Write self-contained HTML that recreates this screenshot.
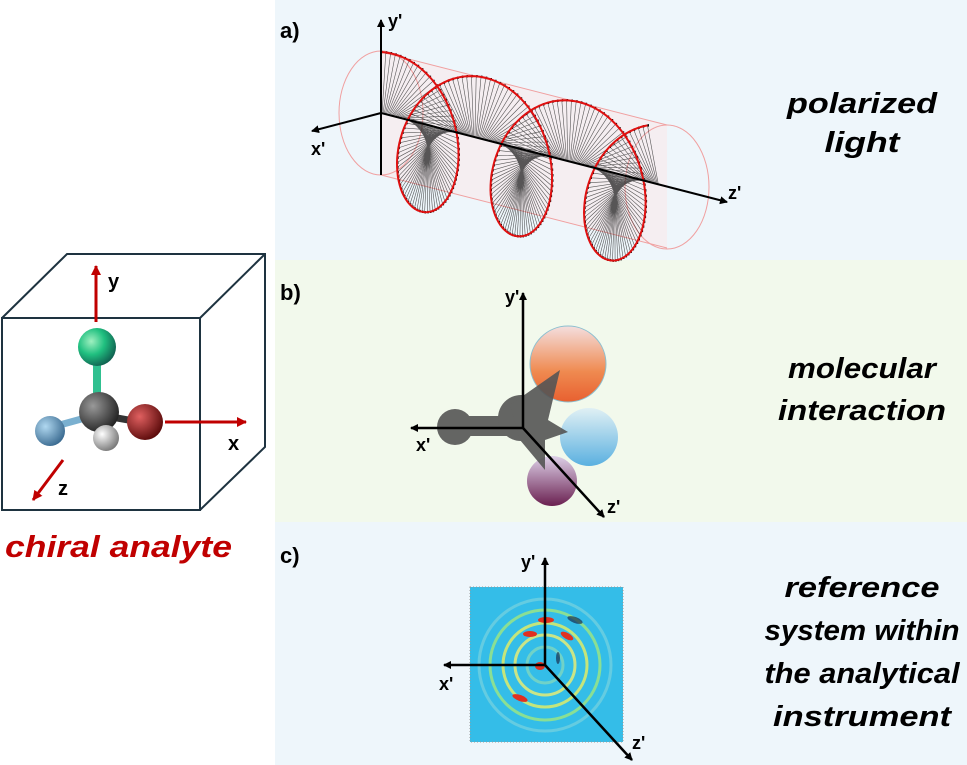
<!DOCTYPE html>
<html><head><meta charset="utf-8"><style>
html,body{margin:0;padding:0;background:#fff}
svg{display:block}
text{font-family:"Liberation Sans",sans-serif}
</style></head><body>
<svg id="s" width="967" height="765" viewBox="0 0 967 765" xmlns="http://www.w3.org/2000/svg">
<defs>
<marker id="ab" markerWidth="8" markerHeight="8" refX="7" refY="4" orient="auto" markerUnits="userSpaceOnUse"><path d="M0,0 L8,4 L0,8 z" fill="#000"/></marker>
<marker id="ar" markerWidth="10" markerHeight="10" refX="9" refY="5" orient="auto" markerUnits="userSpaceOnUse"><path d="M0,0 L10,5 L0,10 z" fill="#c00000"/></marker>
<radialGradient id="gG" cx="0.35" cy="0.35" r="0.7"><stop offset="0" stop-color="#9ff0c0"/><stop offset="0.5" stop-color="#20c080"/><stop offset="1" stop-color="#106050"/></radialGradient>
<radialGradient id="gC" cx="0.35" cy="0.35" r="0.7"><stop offset="0" stop-color="#999"/><stop offset="1" stop-color="#222"/></radialGradient>
<radialGradient id="gR" cx="0.35" cy="0.35" r="0.7"><stop offset="0" stop-color="#e06060"/><stop offset="1" stop-color="#5a0a0a"/></radialGradient>
<radialGradient id="gB" cx="0.35" cy="0.35" r="0.7"><stop offset="0" stop-color="#b0d8f0"/><stop offset="1" stop-color="#3a6a90"/></radialGradient>
<radialGradient id="gW" cx="0.35" cy="0.35" r="0.7"><stop offset="0" stop-color="#fff"/><stop offset="1" stop-color="#777"/></radialGradient>
<linearGradient id="gO" x1="0" y1="0" x2="0" y2="1"><stop offset="0" stop-color="#f4dede"/><stop offset="0.6" stop-color="#ef8a50"/><stop offset="1" stop-color="#e86030"/></linearGradient>
<linearGradient id="gL" x1="0" y1="0" x2="0" y2="1"><stop offset="0" stop-color="#e0f0f4"/><stop offset="1" stop-color="#5ab0e0"/></linearGradient>
<linearGradient id="gP" x1="0" y1="0" x2="0" y2="1"><stop offset="0" stop-color="#ddd0e8"/><stop offset="1" stop-color="#6a2050"/></linearGradient>
</defs>
<rect x="275" y="0" width="692" height="260" fill="#eef6fb"/>
<rect x="275" y="260" width="692" height="262" fill="#f2f9ec"/>
<rect x="275" y="522" width="692" height="243" fill="#eef6fb"/>

<!-- cube -->
<g fill="none" stroke="#1e3340" stroke-width="2">
<rect x="2" y="318" width="198" height="192"/>
<polyline points="2,318 67,254 265,254 265,447 200,510"/>
<line x1="200" y1="318" x2="265" y2="254"/>
</g>
<line x1="96" y1="322" x2="96" y2="266" stroke="#c00000" stroke-width="3" marker-end="url(#ar)"/>
<text x="108" y="288" font-size="20" font-weight="bold">y</text>
<line x1="165" y1="422" x2="246" y2="422" stroke="#c00000" stroke-width="3" marker-end="url(#ar)"/>
<text x="228" y="450" font-size="20" font-weight="bold">x</text>
<line x1="63" y1="460" x2="33" y2="500" stroke="#c00000" stroke-width="3" marker-end="url(#ar)"/>
<text x="58" y="495" font-size="20" font-weight="bold">z</text>
<rect x="93" y="355" width="8" height="45" fill="#30c090"/>
<line x1="96" y1="415" x2="56" y2="426" stroke="#7ab0d0" stroke-width="7"/>
<line x1="100" y1="415" x2="140" y2="422" stroke="#333" stroke-width="7"/>
<circle cx="97" cy="347" r="19" fill="url(#gG)"/>
<circle cx="50" cy="431" r="15" fill="url(#gB)"/>
<circle cx="99" cy="412" r="20" fill="url(#gC)"/>
<circle cx="145" cy="422" r="18" fill="url(#gR)"/>
<circle cx="106" cy="438" r="13" fill="url(#gW)"/>
<text x="5" y="557" font-size="31" font-weight="bold" font-style="italic" fill="#c00000" textLength="227" lengthAdjust="spacingAndGlyphs">chiral analyte</text>

<!-- panel a -->
<text x="280" y="38" font-size="22" font-weight="bold">a)</text>
<g fill="#fbe6e8" fill-opacity="0.5" stroke="#f0a0a0" stroke-width="1">
<path d="M381,52 L667,125 L667,248 L381,175 Z" stroke="none"/>
<line x1="381" y1="52" x2="667" y2="125"/>
<line x1="381" y1="175" x2="667" y2="248"/>
<ellipse cx="381" cy="113" rx="42" ry="62" fill="none"/>
<ellipse cx="667" cy="187" rx="42" ry="62" fill="none"/>
</g>
<g id="helix"></g>
<line x1="381" y1="175" x2="381" y2="20" stroke="#000" stroke-width="2" marker-end="url(#ab)"/>
<line x1="381" y1="113" x2="312" y2="131" stroke="#000" stroke-width="2" marker-end="url(#ab)"/>
<line x1="381" y1="113" x2="727" y2="202" stroke="#000" stroke-width="2" marker-end="url(#ab)"/>
<text x="388" y="27" font-size="18" font-weight="bold">y'</text>
<text x="311" y="155" font-size="18" font-weight="bold">x'</text>
<text x="728" y="199" font-size="18" font-weight="bold">z'</text>
<g font-size="29" font-weight="bold" font-style="italic" text-anchor="middle">
<text x="862" y="113" textLength="150" lengthAdjust="spacingAndGlyphs">polarized</text>
<text x="862" y="152" textLength="75" lengthAdjust="spacingAndGlyphs">light</text>
</g>

<!-- panel b -->
<text x="280" y="300" font-size="22" font-weight="bold">b)</text>
<circle cx="568" cy="364" r="38" fill="url(#gO)" stroke="#8cc0d0" stroke-width="1"/>
<circle cx="589" cy="437" r="29" fill="url(#gL)"/>
<circle cx="552" cy="481" r="25" fill="url(#gP)"/>
<g fill="#555" opacity="0.9">
<circle cx="455" cy="427" r="18"/>
<rect x="455" y="416" width="65" height="20"/>
<circle cx="521" cy="418" r="23"/>
<path d="M510,405 L560,370 L548,420 L568,432 L545,440 L545,470 L520,440 Z"/>
</g>
<line x1="523" y1="428" x2="523" y2="293" stroke="#000" stroke-width="2.5" marker-end="url(#ab)"/>
<line x1="523" y1="428" x2="411" y2="428" stroke="#000" stroke-width="2.5" marker-end="url(#ab)"/>
<line x1="523" y1="428" x2="604" y2="517" stroke="#000" stroke-width="2.5" marker-end="url(#ab)"/>
<text x="505" y="303" font-size="18" font-weight="bold">y'</text>
<text x="416" y="451" font-size="18" font-weight="bold">x'</text>
<text x="607" y="513" font-size="18" font-weight="bold">z'</text>
<g font-size="29" font-weight="bold" font-style="italic" text-anchor="middle">
<text x="862" y="378" textLength="148" lengthAdjust="spacingAndGlyphs">molecular</text>
<text x="862" y="420" textLength="168" lengthAdjust="spacingAndGlyphs">interaction</text>
</g>

<!-- panel c -->
<text x="280" y="563" font-size="22" font-weight="bold">c)</text>
<rect x="470" y="587" width="153" height="155" fill="#34bde8" stroke="#999" stroke-dasharray="1,2"/>
<g fill="none" stroke-width="3" opacity="0.8">
<circle cx="545" cy="665" r="55" stroke="#a0e880"/>
<circle cx="545" cy="665" r="42" stroke="#e8f060"/>
<circle cx="545" cy="665" r="30" stroke="#f0f070"/>
<circle cx="545" cy="665" r="18" stroke="#80d8c0"/>
<circle cx="545" cy="665" r="66" stroke="#70d0e0"/>
</g>
<g fill="#e03020">
<ellipse cx="546" cy="620" rx="8" ry="3"/><ellipse cx="530" cy="634" rx="7" ry="3"/>
<ellipse cx="567" cy="636" rx="7" ry="3" transform="rotate(30 567 636)"/>
<ellipse cx="520" cy="698" rx="8" ry="3" transform="rotate(20 520 698)"/>
<ellipse cx="540" cy="666" rx="5" ry="4"/>
</g>
<g fill="#1a3050" opacity="0.7"><ellipse cx="575" cy="620" rx="8" ry="3" transform="rotate(20 575 620)"/><ellipse cx="558" cy="658" rx="2" ry="6"/></g>
<line x1="545" y1="665" x2="545" y2="558" stroke="#000" stroke-width="2.5" marker-end="url(#ab)"/>
<line x1="545" y1="665" x2="444" y2="665" stroke="#000" stroke-width="2.5" marker-end="url(#ab)"/>
<line x1="545" y1="665" x2="632" y2="760" stroke="#000" stroke-width="2.5" marker-end="url(#ab)"/>
<text x="521" y="568" font-size="18" font-weight="bold">y'</text>
<text x="439" y="690" font-size="18" font-weight="bold">x'</text>
<text x="632" y="749" font-size="18" font-weight="bold">z'</text>
<g font-size="29" font-weight="bold" font-style="italic" text-anchor="middle">
<text x="862" y="597" textLength="155" lengthAdjust="spacingAndGlyphs">reference</text>
<text x="862" y="640" textLength="195" lengthAdjust="spacingAndGlyphs">system within</text>
<text x="862" y="683" textLength="195" lengthAdjust="spacingAndGlyphs">the analytical</text>
<text x="862" y="726" textLength="178" lengthAdjust="spacingAndGlyphs">instrument</text>
</g>
</svg>
<script>
(function(){
var g=document.getElementById('helix'),ns='http://www.w3.org/2000/svg';
var N=260,tmax=0.97,period=0.327,pts=[],sp='',dots='';
for(var i=0;i<=N;i++){
 var t=tmax*i/N,th=2*Math.PI*t/period;
 var ax=381+286*t,ay=113+74*t;
 var px=ax+52*Math.sin(th),py=ay-61*Math.cos(th)+13*(1-Math.cos(th));
 pts.push(px.toFixed(1)+','+py.toFixed(1));
 sp+='M'+ax.toFixed(1)+','+ay.toFixed(1)+'L'+px.toFixed(1)+','+py.toFixed(1);
 dots+='M'+px.toFixed(1)+','+py.toFixed(1)+'h1.5';
}
var p=document.createElementNS(ns,'path');p.setAttribute('d',sp);p.setAttribute('stroke','#222');p.setAttribute('stroke-width','0.6');p.setAttribute('opacity','0.75');p.setAttribute('fill','none');g.appendChild(p);
var d=document.createElementNS(ns,'path');d.setAttribute('d',dots);d.setAttribute('stroke','#111');d.setAttribute('stroke-width','2.5');g.appendChild(d);
var l=document.createElementNS(ns,'polyline');l.setAttribute('points',pts.join(' '));l.setAttribute('stroke','#e01010');l.setAttribute('stroke-width','2');l.setAttribute('fill','none');g.appendChild(l);
})();
</script>
</body></html>
